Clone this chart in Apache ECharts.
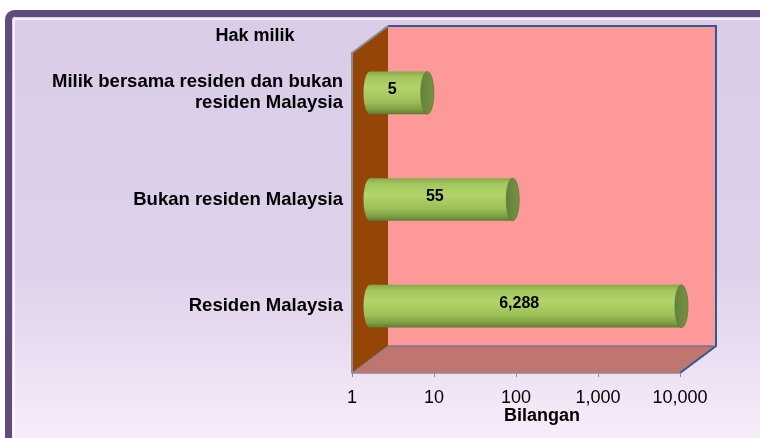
<!DOCTYPE html>
<html>
<head>
<meta charset="utf-8">
<script src="https://cdn.jsdelivr.net/npm/echarts@6/dist/echarts.min.js"></script>
<style>
  html, body { margin: 0; padding: 0; background: #ffffff; }
  #main { width: 760px; height: 438px; }
</style>
</head>
<body>
<div id="main"></div>
<script>
// data
var categories = ['Residen Malaysia', 'Bukan residen Malaysia', 'Milik bersama residen dan bukan\nresiden Malaysia'];
var values = [6288, 55, 5];
var tickValues = [1, 10, 100, 1000, 10000];

var FONT = 'Liberation Sans, Arial, sans-serif';

// 3D box: front plane + depth offset
var FX0 = 352, FX1 = 680, FY0 = 53, FY1 = 373;
var DX = 36, DY = 27;

var myChart = echarts.init(document.getElementById('main'));

function fmt(v) {
    return Math.round(v).toLocaleString('en-US');
}

function renderBar(params, api) {
    var cat = api.value(1);
    var val = api.value(0);
    var p0 = api.coord([1, cat]);
    var p1 = api.coord([val, cat]);
    var band = params.coordSys.height / categories.length;
    var h = band * 0.4;
    var rx = 6.5;
    var cy = p0[1];
    var bodyFill = new echarts.graphic.LinearGradient(0, 0, 0, 1, [
        {offset: 0, color: '#86a84b'},
        {offset: 0.12, color: '#a2c65d'},
        {offset: 0.4, color: '#b1d56a'},
        {offset: 0.72, color: '#9cbe57'},
        {offset: 0.9, color: '#7c9c43'},
        {offset: 1, color: '#5e7b32'}
    ]);
    var capFill = new echarts.graphic.LinearGradient(0, 0, 1, 0, [
        {offset: 0, color: '#64803a'},
        {offset: 0.6, color: '#6e8c40'},
        {offset: 1, color: '#74923f'}
    ]);
    return {
        type: 'group',
        children: [
            {type: 'ellipse', shape: {cx: p0[0], cy: cy, rx: rx, ry: h / 2}, style: {fill: bodyFill}},
            {type: 'rect', shape: {x: p0[0], y: cy - h / 2, width: p1[0] - p0[0], height: h}, style: {fill: bodyFill}},
            {type: 'ellipse', shape: {cx: p1[0], cy: cy, rx: rx, ry: h / 2}, style: {fill: capFill, stroke: '#5f7b35', lineWidth: 0.8}},
            {type: 'text', x: (p0[0] + p1[0]) / 2 - rx, y: cy - 3,
             style: {text: fmt(val), fill: '#000', fontSize: 16, fontWeight: 'bold', fontFamily: FONT, align: 'center', verticalAlign: 'middle'}}
        ]
    };
}

var data = values.map(function (v, i) { return [v, i]; });

var option = {
    animation: false,
    textStyle: {fontFamily: FONT},
    graphic: [
        // panel
        {type: 'rect', z: -20, shape: {x: 8.5, y: 13.5, width: 800, height: 470, r: 6},
         style: {
             fill: new echarts.graphic.LinearGradient(0, 0, 0, 1, [
                 {offset: 0, color: '#dacce7'},
                 {offset: 0.55, color: '#ded1ea'},
                 {offset: 0.85, color: '#f5e8f8'},
                 {offset: 1, color: '#fef2fe'}
             ]),
             stroke: '#604c7c', lineWidth: 7
         }},
        {type: 'polyline', z: -19, shape: {points: [[14, 440], [14, 19], [800, 19]]},
         style: {stroke: 'rgba(255,255,255,0.7)', lineWidth: 2, fill: null}},
        // back wall
        {type: 'rect', z: -10, shape: {x: FX0 + DX, y: FY0 - DY, width: FX1 - FX0, height: FY1 - FY0},
         style: {fill: '#fe9999'}},
        // left wall
        {type: 'polygon', z: -9, shape: {points: [[FX0, FY0], [FX0 + DX, FY0 - DY], [FX0 + DX, FY1 - DY], [FX0, FY1]]},
         style: {fill: '#954506'}},
        // floor
        {type: 'polygon', z: -9, shape: {points: [[FX0, FY1], [FX1, FY1], [FX1 + DX, FY1 - DY], [FX0 + DX, FY1 - DY]]},
         style: {fill: '#c07571'}},
        // edges
        {type: 'polyline', z: -8, shape: {points: [[FX0 + DX, FY0 - DY], [FX1 + DX, FY0 - DY], [FX1 + DX, FY1 - DY], [FX1, FY1]]},
         style: {stroke: '#2f5b93', lineWidth: 2, fill: null}},
        {type: 'line', z: -8, shape: {x1: FX0 + DX, y1: FY1 - DY, x2: FX1 + DX, y2: FY1 - DY},
         style: {stroke: '#4a6a9a', lineWidth: 1.2}},
        {type: 'line', z: -8, shape: {x1: FX0, y1: FY1, x2: FX0 + DX, y2: FY1 - DY},
         style: {stroke: '#6f7f9a', lineWidth: 1}},
        {type: 'polyline', z: -8, shape: {points: [[FX0, FY1], [FX0, FY0], [FX0 + DX, FY0 - DY]]},
         style: {stroke: '#8a8a8a', lineWidth: 2, fill: null}},
        // titles
        {type: 'text', x: 255, y: 36,
         style: {text: 'Hak milik', fill: '#000', fontSize: 18, fontWeight: 'bold', fontFamily: FONT, align: 'center', verticalAlign: 'middle'}},
        {type: 'text', x: 542, y: 416,
         style: {text: 'Bilangan', fill: '#000', fontSize: 18, fontWeight: 'bold', fontFamily: FONT, align: 'center', verticalAlign: 'middle'}}
    ],
    grid: [
        {left: FX0, top: FY0, width: FX1 - FX0, height: FY1 - FY0, containLabel: false},
        {left: FX0 + DX / 2, top: FY0 - DY / 2, width: FX1 - FX0, height: FY1 - FY0, containLabel: false}
    ],
    xAxis: [
        {
            type: 'log', logBase: 10, min: 1, max: 10000, gridIndex: 0,
            axisLine: {show: true, lineStyle: {color: '#8a8a8a', width: 1.5}},
            axisTick: {show: true, length: 4, lineStyle: {color: '#8a8a8a'}},
            splitLine: {show: false},
            axisLabel: {
                color: '#000', fontSize: 18, fontFamily: FONT, margin: 16,
                formatter: function (v) { return tickValues.indexOf(Math.round(v)) >= 0 ? fmt(v) : ''; }
            }
        },
        {
            type: 'log', logBase: 10, min: 1, max: 10000, gridIndex: 1, show: false
        }
    ],
    yAxis: [
        {type: 'category', data: categories, gridIndex: 0, show: false},
        {
            type: 'category', data: categories, gridIndex: 1,
            axisLine: {show: false}, axisTick: {show: false},
            axisLabel: {color: '#000', fontSize: 18.5, fontWeight: 'bold', fontFamily: FONT, margin: 27, lineHeight: 21}
        }
    ],
    series: [
        {
            type: 'custom',
            xAxisIndex: 1, yAxisIndex: 1,
            renderItem: renderBar,
            encode: {x: 0, y: 1},
            data: data,
            z: 5
        }
    ]
};

myChart.setOption(option);
</script>
</body>
</html>
